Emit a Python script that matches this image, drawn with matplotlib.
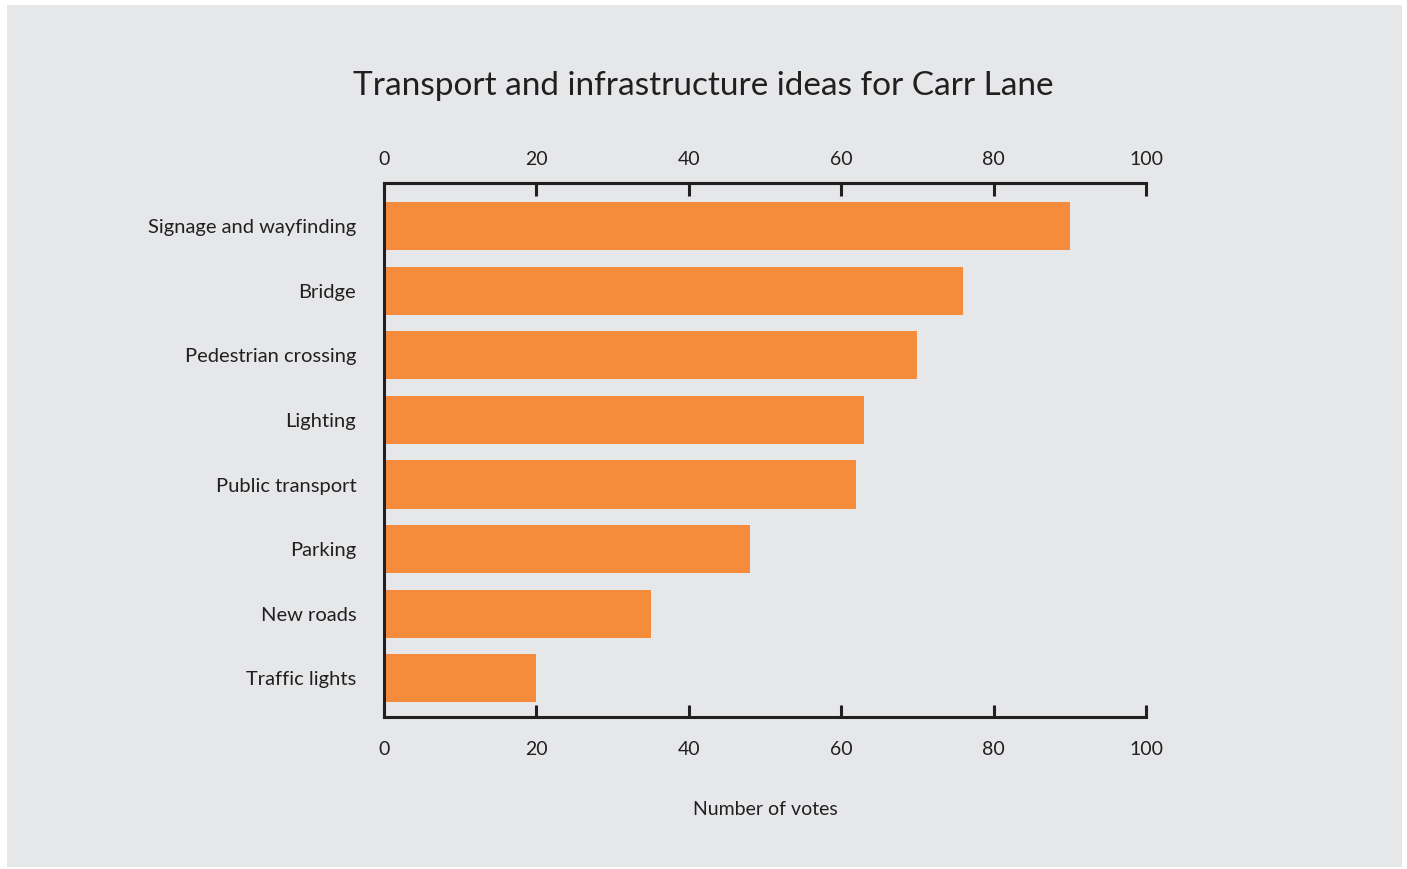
import matplotlib.pyplot as plt
from matplotlib.patches import Rectangle

plt.rcParams['font.family'] = ['Lato', 'DejaVu Sans']

ideas = ['Signage and wayfinding', 'Bridge', 'Pedestrian crossing', 'Lighting',
         'Public transport', 'Parking', 'New roads', 'Traffic lights']
votes = [90, 76, 70, 63, 62, 48, 35, 20]
xticks = [0, 20, 40, 60, 80, 100]

bg = '#e6e7e9'
bar_col = '#f58c3c'
ink = '#231f20'

fig = plt.figure(figsize=(14.07, 8.69), dpi=100)
fig.patch.set_facecolor('white')
fig.patches.append(Rectangle((7/1407, 2/869), 1395/1407, 862/869,
                             transform=fig.transFigure, facecolor=bg,
                             edgecolor='none', zorder=-10))

ax = fig.add_axes([384/1407, 1 - 717/869, 762/1407, 534/869])
ax.set_facecolor(bg)

pos = list(range(len(ideas)))
ax.barh(pos, votes, height=0.745, color=bar_col, zorder=2)

ax.set_xlim(0, 100)
ax.set_ylim(7.6, -0.67)
ax.set_xticks(xticks)
ax.set_yticks(pos)
ax.set_yticklabels(ideas)

for s in ['top', 'bottom', 'left']:
    ax.spines[s].set_linewidth(2.2)
    ax.spines[s].set_color(ink)
ax.spines['right'].set_visible(False)

ax.tick_params(axis='x', direction='in', length=9, width=2.2, color=ink,
               top=False, labelsize=14, labelcolor=ink, pad=17)
ax.tick_params(axis='y', length=0, labelsize=14.5, labelcolor=ink, pad=20)

# top axis with its own label spacing
top = ax.secondary_xaxis('top')
top.set_xticks(xticks)
top.spines['top'].set_linewidth(2.2)
top.spines['top'].set_color(ink)
top.tick_params(axis='x', direction='in', length=9, width=2.2, color=ink,
                labelsize=14, labelcolor=ink, pad=11)

ax.set_xlabel('Number of votes', fontsize=14, color=ink, labelpad=31)
fig.text(0.5, 1 - 86/869, 'Transport and infrastructure ideas for Carr Lane',
         ha='center', va='center', fontsize=24, color=ink)

fig.savefig('out.png', dpi=100, facecolor='white')
